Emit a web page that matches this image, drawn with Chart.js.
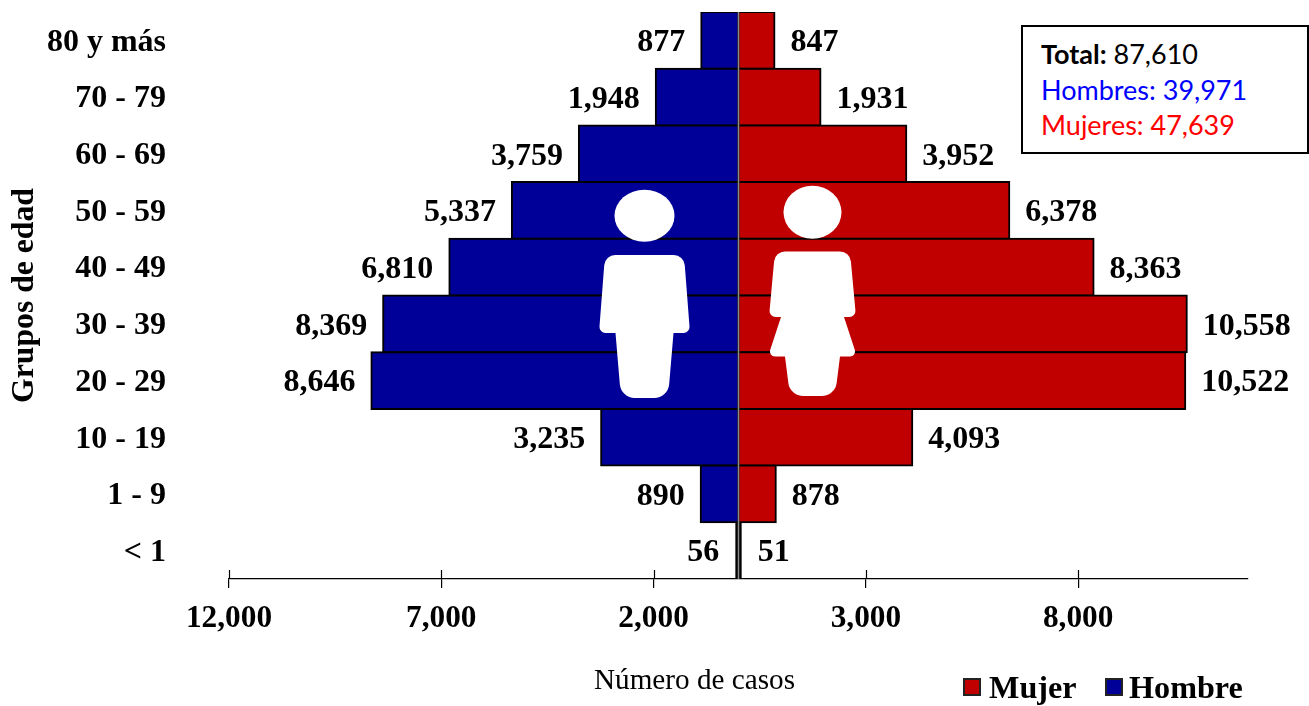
<!DOCTYPE html>
<html>
<head>
<meta charset="utf-8">
<title>Grupos de edad</title>
<script src="https://cdn.jsdelivr.net/npm/chart.js@4"></script>
<style>
  html, body { margin: 0; background: #fff; }
  #wrap { position: relative; width: 1309px; height: 706px; overflow: hidden; }
  #resumen {
    position: absolute; left: 1021px; top: 25px; width: 284px; height: 125px;
    border: 2px solid #000; background: #fff; box-sizing: content-box;
    font: 27px/35.5px Lato, sans-serif; padding: 0;
  }
  #resumen div { margin-left: 18px; white-space: nowrap; }
  #resumen div:first-child { margin-top: 9px; }
</style>
</head>
<body>
<div id="wrap">
  <canvas id="piramide" width="1309" height="706"></canvas>
  <div id="resumen">
    <div style="color:#000"><b>Total:</b> <span id="t"></span></div>
    <div style="color:#0000ff">Hombres: <span id="h"></span></div>
    <div style="color:#ff0000">Mujeres: <span id="m"></span></div>
  </div>
</div>
<script>
var grupos = ["80 y más", "70 - 79", "60 - 69", "50 - 59", "40 - 49", "30 - 39", "20 - 29", "10 - 19", "1 - 9", "< 1"];
var hombres = [877, 1948, 3759, 5337, 6810, 8369, 8646, 3235, 890, 56];
var mujeres = [847, 1931, 3952, 6378, 8363, 10558, 10522, 4093, 878, 51];
var marcasX = [-12000, -7000, -2000, 3000, 8000];
var totales = { total: 87610, hombres: 39971, mujeres: 47639 };

var serif = "'Liberation Serif', 'Times New Roman', serif";
var fmt = function (n) { return Math.abs(n).toLocaleString("en-US"); };

// las barras muy finas quedan solo con el borde negro
var inflar = function (c) { return Math.abs(c.raw) < 100 ? 0 : 1; };

document.getElementById("t").textContent = fmt(totales.total);
document.getElementById("h").textContent = fmt(totales.hombres);
document.getElementById("m").textContent = fmt(totales.mujeres);

// poligono con esquinas redondeadas, para las siluetas
function silueta(ctx, puntos, r) {
  var n = puntos.length;
  var a = puntos[n - 1], b = puntos[0];
  ctx.beginPath();
  ctx.moveTo((a[0] + b[0]) / 2, (a[1] + b[1]) / 2);
  for (var i = 0; i < n; i++) {
    var p = puntos[i], q = puntos[(i + 1) % n];
    ctx.arcTo(p[0], p[1], (p[0] + q[0]) / 2, (p[1] + q[1]) / 2, p[2] === undefined ? r : p[2]);
  }
  ctx.closePath();
  ctx.fill();
}

var figuras = {
  id: "figuras",
  afterDatasetsDraw: function (chart) {
    var ctx = chart.ctx;
    var x = chart.scales.x, y = chart.chartArea;
    ctx.save();

    // linea central gris
    var x0 = x.getPixelForValue(0);
    ctx.strokeStyle = "#8c8c8c";
    ctx.lineWidth = 1.5;
    ctx.beginPath();
    ctx.moveTo(x0, y.top);
    ctx.lineTo(x0, y.bottom);
    ctx.stroke();

    ctx.fillStyle = "#fff";
    // hombre
    ctx.beginPath();
    ctx.ellipse(644.5, 215.7, 30, 26, 0, 0, Math.PI * 2);
    ctx.fill();
    silueta(ctx, [[605, 255, 11], [684, 255, 11], [690, 333, 6], [673.5, 333, 0], [668, 398, 15], [621, 398, 15], [615.5, 333, 0], [599, 333, 6]], 6);
    // mujer
    ctx.beginPath();
    ctx.ellipse(812.5, 212.3, 29, 26.5, 0, 0, Math.PI * 2);
    ctx.fill();
    silueta(ctx, [[775, 251.5, 11], [850, 251.5, 11], [856, 317, 6], [844, 317, 0], [857, 356.5, 5], [840, 356.5, 0], [835, 396, 15], [790, 396, 15], [785, 356.5, 0], [768, 356.5, 5], [781, 317, 0], [769, 317, 6]], 6);

    // parte superior de las marcas del eje
    ctx.strokeStyle = "#000";
    ctx.lineWidth = 1.2;
    x.ticks.forEach(function (t) {
      var px = Math.round(x.getPixelForValue(t.value)) + 0.5;
      ctx.beginPath();
      ctx.moveTo(px, y.bottom - 9);
      ctx.lineTo(px, y.bottom);
      ctx.stroke();
    });
    ctx.restore();
  }
};

var textos = {
  id: "textos",
  afterDraw: function (chart) {
    var ctx = chart.ctx;
    ctx.save();

    // valores al lado de cada barra
    ctx.font = "bold 32px " + serif;
    ctx.fillStyle = "#000";
    ctx.textBaseline = "middle";
    chart.data.datasets.forEach(function (ds, d) {
      chart.getDatasetMeta(d).data.forEach(function (el, i) {
        var v = ds.data[i];
        ctx.textAlign = v < 0 ? "right" : "left";
        ctx.fillText(fmt(v), el.x + (v < 0 ? -16 : 16), el.y + 2.5);
      });
    });

    // titulo del eje x, corrido a la izquierda del centro
    ctx.font = "29.2px " + serif;
    ctx.textAlign = "center";
    ctx.fillText("Número de casos", 694.5, 681);

    // leyenda
    var pos = [[964, 989], [1106, 1129]];
    ctx.font = "bold 32.2px " + serif;
    ctx.textAlign = "left";
    chart.data.datasets.forEach(function (ds, d) {
      ctx.fillStyle = ds.backgroundColor;
      ctx.strokeStyle = "#222";
      ctx.lineWidth = 2;
      ctx.fillRect(pos[d][0], 679, 16, 16);
      ctx.strokeRect(pos[d][0], 679, 16, 16);
      ctx.fillStyle = "#000";
      ctx.fillText(ds.label, pos[d][1], 690);
    });
    ctx.restore();
  }
};

new Chart(document.getElementById("piramide"), {
  type: "bar",
  plugins: [figuras, textos],
  data: {
    labels: grupos,
    datasets: [{
      label: "Mujer",
      data: mujeres,
      backgroundColor: "#C00000",
      borderColor: "#000",
      borderWidth: 2,
      borderSkipped: false,
      minBarLength: 3.3,
      inflateAmount: inflar
    }, {
      label: "Hombre",
      data: hombres.map(function (v) { return -v; }),
      backgroundColor: "#000099",
      borderColor: "#000",
      borderWidth: 2,
      borderSkipped: false,
      minBarLength: 3.3,
      inflateAmount: inflar
    }]
  },
  options: {
    indexAxis: "y",
    responsive: false,
    animation: false,
    layout: { padding: { top: 12, right: 61, bottom: 0, left: 0 } },
    datasets: { bar: { barPercentage: 1, categoryPercentage: 1 } },
    plugins: {
      legend: { display: false },
      tooltip: { enabled: false }
    },
    scales: {
      x: {
        stacked: true,
        min: -12000,
        max: 12000,
        afterBuildTicks: function (scale) {
          scale.ticks = marcasX.map(function (v) { return { value: v }; });
        },
        afterFit: function (scale) { scale.height = 127; },
        border: { display: true, color: "#000", width: 1.2 },
        grid: { drawOnChartArea: false, color: "#000", lineWidth: 1.2, tickLength: 9 },
        ticks: {
          color: "#000",
          maxRotation: 0,
          autoSkip: false,
          padding: 12,
          font: { family: serif, size: 31.3, weight: "bold" },
          callback: function (v) { return fmt(v); }
        }
      },
      y: {
        stacked: true,
        // el padding de las etiquetas no debe empujar el area del grafico
        afterFit: function (scale) {
          scale.width = 229;
          scale.paddingTop = 0;
          scale.paddingBottom = 0;
        },
        border: { display: false },
        grid: { display: false, drawTicks: false },
        ticks: {
          color: "#000",
          padding: 63,
          labelOffset: 2,
          font: { family: serif, size: 32, weight: "bold" }
        },
        title: {
          display: true,
          text: "Grupos de edad",
          color: "#000",
          padding: { top: 6, bottom: 0 },
          font: { family: serif, size: 31.7, weight: "bold" }
        }
      }
    }
  }
});
</script>
</body>
</html>
